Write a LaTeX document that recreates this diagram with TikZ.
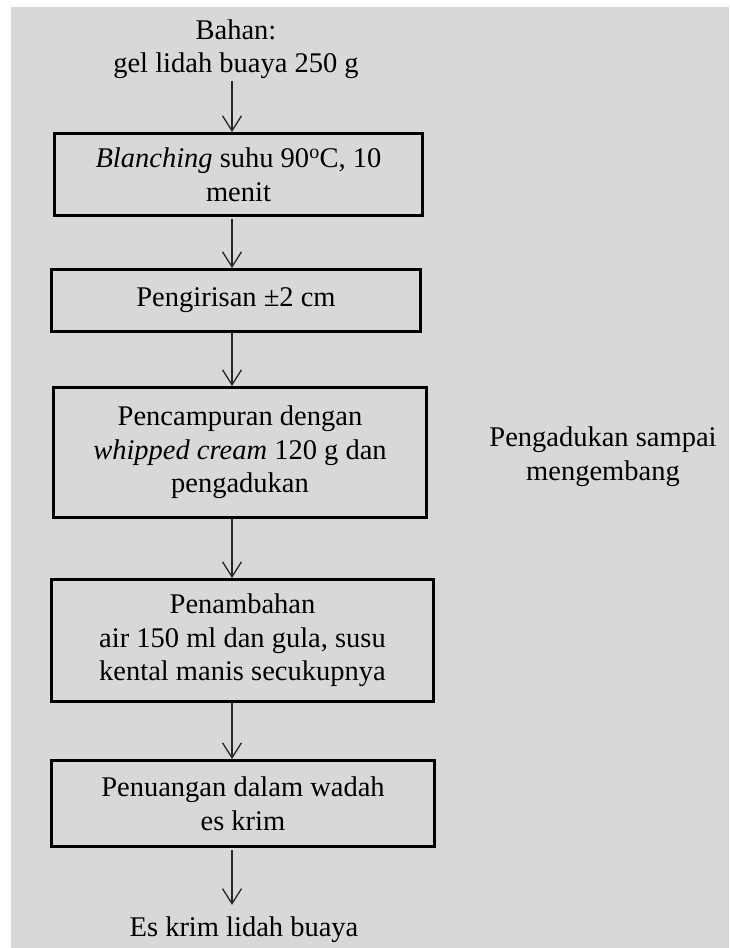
\documentclass[tikz,border=0pt]{standalone}
\usepackage{fontspec}
\setmainfont{Liberation Serif}
\usetikzlibrary{arrows.meta}
\definecolor{bggray}{RGB}{216,216,216}
\tikzset{
  txt/.style={font=\fontsize{28.5}{33.5}\selectfont, align=center, inner sep=2pt},
  stepbox/.style={txt, draw=black, line width=3pt, fill=bggray},
  arr/.style={line width=1.3pt, draw=black!85, -{Straight Barb[length=15pt,width=19pt,line width=1.3pt]}},
}
\begin{document}
\begin{tikzpicture}[x=1pt,y=-1pt]
\useasboundingbox (0,0) rectangle (729,948);
\fill[white] (0,0) rectangle (729,948);
\fill[bggray] (11,7) rectangle (729,948);
\coordinate (ax) at (232,0);
\node[txt] (top) at (236,49) {Bahan:\\gel lidah buaya 250 g};
\node[stepbox, minimum width=368pt, minimum height=82pt] (b1) at (238.5,174.5) {\textit{Blanching} suhu 90\textsuperscript{o}C, 10\\menit};
\node[stepbox, minimum width=369pt, minimum height=62pt] (b2) at (236,300.5) {Pengirisan ±2 cm};
\node[stepbox, minimum width=373pt, minimum height=130pt] (b3) at (240,452.5) {Pencampuran dengan\\\textit{whipped cream} 120 g dan\\pengadukan};
\node[stepbox, minimum width=382pt, minimum height=122pt] (b4) at (242.5,640.5) {Penambahan\\air 150 ml dan gula, susu\\kental manis secukupnya};
\node[stepbox, minimum width=383pt, minimum height=86pt] (b5) at (243,803.5) {Penuangan dalam wadah\\es krim};
\node[txt] (fin) at (244,930) {Es krim lidah buaya};
\node[txt] (side) at (603,456.5) {Pengadukan sampai\\mengembang};
\draw[arr] (top.south -| ax) -- (b1.north -| ax);
\draw[arr, shorten <=2pt] (b1.south -| ax) -- (b2.north -| ax);
\draw[arr] (b2.south -| ax) -- (b3.north -| ax);
\draw[arr] (b3.south -| ax) -- (b4.north -| ax);
\draw[arr] (b4.south -| ax) -- (b5.north -| ax);
\draw[arr, shorten <=2pt, shorten >=10pt] (b5.south -| ax) -- (fin.north -| ax);
\end{tikzpicture}
\end{document}
